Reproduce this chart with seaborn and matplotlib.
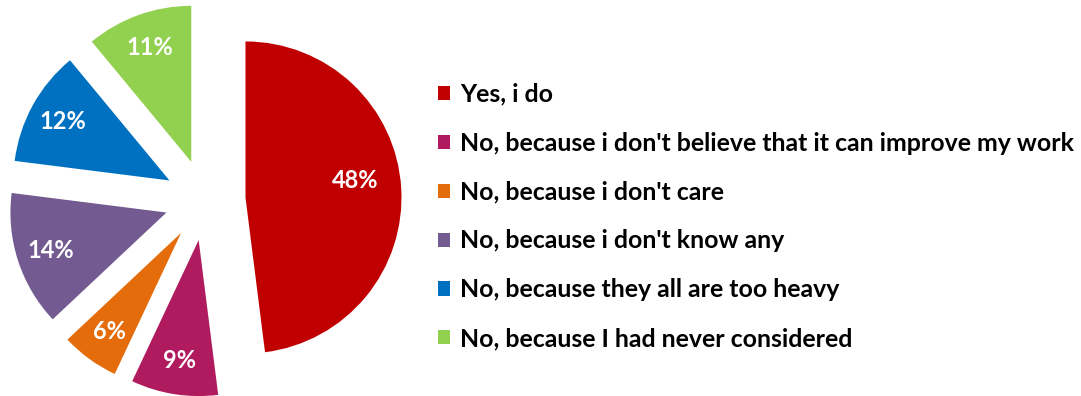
import numpy as np
import matplotlib
matplotlib.use("Agg")
import matplotlib.pyplot as plt
import matplotlib.patches as mpatches
import seaborn as sns

categories = [
    "Yes, i do",
    "No, because i don't believe that it can improve my work",
    "No, because i don't care",
    "No, because i don't know any",
    "No, because they all are too heavy",
    "No, because I had never considered",
]
values = [48, 9, 6, 14, 12, 11]
colors = ["#C00000", "#B01A5E", "#E46C0A", "#735A90", "#0070C0", "#92D050"]

sns.set_theme(style="white")
plt.rcParams['font.family'] = ['Lato', 'DejaVu Sans']

W, H = 1081, 396
fig = plt.figure(figsize=(W / 100, H / 100), dpi=100)
fig.patch.set_facecolor("white")

R = 156.0       # pie radius in px
cx, cy = 205.0, 196.0  # centre in px from bottom-left
axw = 420.0
ax = fig.add_axes([0, 0, axw / W, 1])
palette = sns.color_palette(colors)

wedges, texts, autotexts = ax.pie(
    values,
    colors=palette,
    startangle=90,
    counterclock=False,
    explode=[0.26] * len(values),
    pctdistance=0.78,
    autopct=lambda p: f"{p:.0f}%",
    textprops=dict(color="white", fontsize=17, fontweight="bold"),
    wedgeprops=dict(linewidth=0),
)
ax.set_aspect("auto")
ax.set_xlim(-cx / R, (axw - cx) / R)
ax.set_ylim(-cy / R, (H - cy) / R)
ax.axis("off")

# nudge the big label slightly inwards / upwards like the reference
t0 = wedges[0]
bis = np.deg2rad((t0.theta1 + t0.theta2) / 2)
mid = bis + np.deg2rad(5)
ex, ey = 0.26 * np.cos(bis), 0.26 * np.sin(bis)
autotexts[0].set_position((ex + 0.71 * np.cos(mid), ey + 0.71 * np.sin(mid)))

handles = [mpatches.Patch(facecolor=c, edgecolor="none") for c in palette]
leg = fig.legend(
    handles, categories,
    loc="center left",
    bbox_to_anchor=(438 / W, 1 - 216.5 / H),
    frameon=False,
    prop=dict(family=['Lato', 'DejaVu Sans'], weight="bold", size=17.9),
    handlelength=0.5, handleheight=0.5,
    handletextpad=0.4,
    labelspacing=1.04,
    borderaxespad=0, borderpad=0,
)
for t in leg.get_texts():
    t.set_color("black")

fig.savefig("out.png", dpi=100, facecolor="white")
